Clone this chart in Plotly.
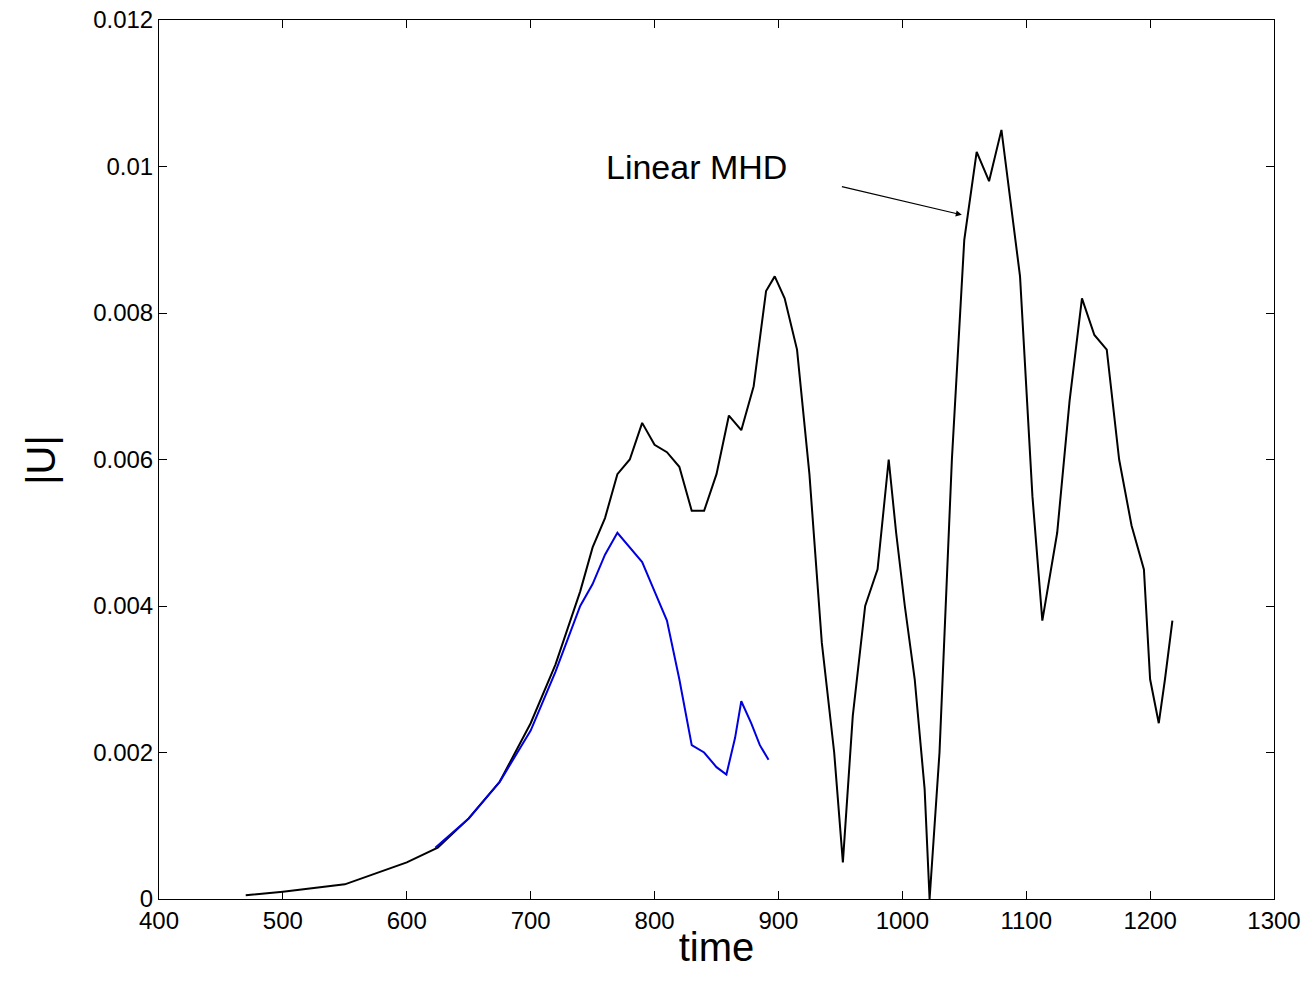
import plotly.graph_objects as go

t_black = [470,500,550,600,625,650,675,700,720,740,750,760,770,780,790,800,810,820,830,840,850,860,870,880,890,897,905,915,925,935,945,952,960,970,980,989,995,1002,1010,1018,1022,1030,1040,1050,1060,1070,1080,1095,1105,1113,1125,1135,1145,1155,1165,1175,1185,1195,1200,1207,1212,1218]
u_black = [0.00005,0.0001,0.0002,0.0005,0.0007,0.0011,0.0016,0.0024,0.0032,0.0042,0.0048,0.0052,0.0058,0.0060,0.0065,0.0062,0.0061,0.0059,0.0053,0.0053,0.0058,0.0066,0.0064,0.0070,0.0083,0.0085,0.0082,0.0075,0.0058,0.0035,0.0020,0.0005,0.0025,0.0040,0.0045,0.0060,0.0050,0.0040,0.0030,0.0015,0.0000,0.0020,0.0060,0.0090,0.0102,0.0098,0.0105,0.0085,0.0055,0.0038,0.0050,0.0068,0.0082,0.0077,0.0075,0.0060,0.0051,0.0045,0.0030,0.0024,0.0030,0.0038]
t_blue = [623,650,675,700,720,740,750,760,770,780,790,800,810,820,830,840,850,858,865,870,878,885,892]
u_blue = [0.0007,0.0011,0.0016,0.0023,0.0031,0.0040,0.0043,0.0047,0.0050,0.0048,0.0046,0.0042,0.0038,0.0030,0.0021,0.0020,0.0018,0.0017,0.0022,0.0027,0.0024,0.0021,0.0019]

fig = go.Figure()
fig.add_trace(go.Scatter(x=t_black, y=u_black, mode="lines", line=dict(color="black", width=2)))
fig.add_trace(go.Scatter(x=t_blue, y=u_blue, mode="lines", line=dict(color="#0000e0", width=2)))
fig.add_annotation(x=834, y=0.0100, text="Linear MHD", showarrow=False, font=dict(size=34, color="black"))
fig.add_annotation(x=1048, y=0.00934, ax=950, ay=0.00973, axref="x", ayref="y", xref="x", yref="y",
                   text="", showarrow=True, arrowhead=2, arrowwidth=1.2, arrowcolor="black")
fig.add_annotation(x=-0.128, y=0.006, xref="paper", yref="y", text="|U|", textangle=-90,
                   showarrow=False, font=dict(size=40, color="black"))
ax = dict(showgrid=False, zeroline=False, showline=True, linecolor="black", mirror="ticks", automargin=False,
          ticks="inside", ticklen=8, tickcolor="black", tickfont=dict(size=24, color="black"),
          ticklabeloverflow="allow")
fig.update_layout(
    width=1316, height=994, plot_bgcolor="white", paper_bgcolor="white", showlegend=False,
    margin=dict(l=151, r=50, t=12, b=103),
    font=dict(family="Liberation Sans, Arial, sans-serif", color="black"),
    xaxis=dict(range=[400,1300], dtick=100, title=dict(text="time", font=dict(size=40), standoff=0), **ax),
    yaxis=dict(range=[0,0.012], dtick=0.002, tickformat="~g", **ax),
)
fig.write_html("out.html")
